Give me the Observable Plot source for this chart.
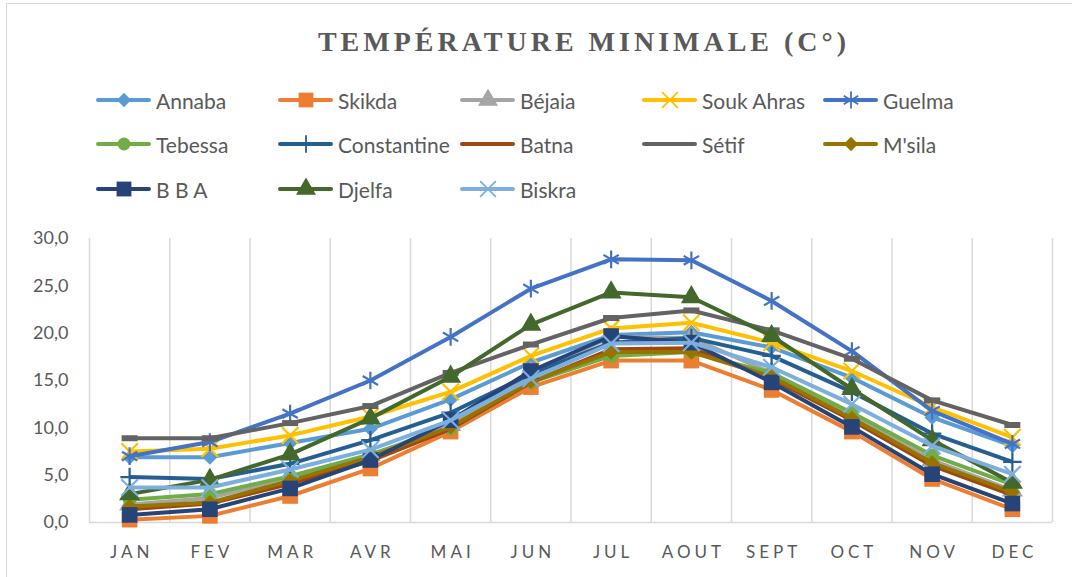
<!DOCTYPE html>
<html>
<head>
<meta charset="utf-8">
<script src="https://cdn.jsdelivr.net/npm/d3@7"></script>
<script src="https://cdn.jsdelivr.net/npm/@observablehq/plot@0.6"></script>
<style>
  html, body { margin: 0; padding: 0; background: #fff; overflow: hidden; }
  #wrap { position: relative; width: 1072px; height: 577px; overflow: hidden; font-family: Lato, "Open Sans", sans-serif; color: #595959; }
  #frame { position: absolute; left: 6px; top: 3px; width: 1080px; height: 590px; border: 1.5px solid #d9d9d9; box-sizing: border-box; }
  #title { position: absolute; left: 0; width: 1072px; top: 26px; text-align: center; font-family: "Liberation Serif", "Times New Roman", serif; font-weight: bold; font-size: 28px; letter-spacing: 4px; color: #595959; line-height: 32px; padding-left: 96px; box-sizing: border-box; }
  #legend { position: absolute; left: 0; top: 0; width: 1072px; height: 215px; }
  .entry { position: absolute; height: 30px; display: flex; align-items: center; }
  .entry svg { display: block; }
  .entry span { font-size: 21px; color: #595959; margin-left: 5px; white-space: nowrap; }
  #chart { position: absolute; left: 0; top: 215px; }
</style>
</head>
<body>
<div id="wrap">
  <div id="frame"></div>
  <div id="title">TEMPÉRATURE MINIMALE (C°)</div>
  <div id="legend"></div>
  <div id="chart"></div>
</div>
<script>
const months = ["JAN","FEV","MAR","AVR","MAI","JUN","JUL","AOUT","SEPT","OCT","NOV","DEC"];
const seriesNames = ["Annaba","Skikda","Béjaia","Souk Ahras","Guelma","Tebessa","Constantine","Batna","Sétif","M'sila","B B A","Djelfa","Biskra"];
const seriesColors = ["#5B9BD5","#ED7D31","#A5A5A5","#FFC000","#4472C4","#70AD47","#255E91","#9E480E","#636363","#997300","#264478","#43682B","#7CAFDD"];
const seriesMarkers = ["diamond","square","triangle","times","asterisk","circle","plus","none","dash","diamond","square","triangle","times"];
const yTicks = [0, 5, 10, 15, 20, 25, 30];

const annaba      = [6.9, 6.9, 8.4, 9.9, 13.0, 16.9, 19.8, 20.1, 18.5, 15.3, 11.1, 8.1];
const skikda      = [0.3, 0.7, 2.8, 5.7, 9.6, 14.3, 17.1, 17.1, 14.0, 9.6, 4.6, 1.4];
const bejaia      = [1.9, 2.6, 4.7, 7.1, 10.3, 15.8, 19.6, 19.5, 15.8, 11.3, 6.6, 3.4];
const soukAhras   = [7.5, 7.8, 9.2, 11.2, 13.8, 17.6, 20.5, 21.1, 19.0, 16.0, 12.2, 9.0];
const guelma      = [7.0, 8.5, 11.5, 15.0, 19.6, 24.7, 27.8, 27.7, 23.4, 18.1, 11.8, 8.3];
const tebessa     = [2.4, 3.0, 4.9, 7.2, 9.9, 14.8, 17.6, 18.0, 15.8, 11.6, 7.1, 4.0];
const constantine = [4.8, 4.6, 6.2, 8.7, 11.6, 15.7, 19.0, 19.5, 17.6, 13.8, 9.4, 6.4];
const batna       = [1.4, 2.0, 4.1, 6.5, 9.9, 14.8, 18.3, 18.4, 15.2, 10.8, 6.0, 2.9];
const setif       = [8.9, 8.9, 10.5, 12.3, 15.8, 18.8, 21.6, 22.4, 20.3, 17.3, 12.9, 10.3];
const msila       = [1.7, 2.1, 4.4, 6.9, 10.1, 14.9, 18.0, 18.0, 15.4, 11.0, 6.3, 3.2];
const bba         = [0.8, 1.4, 3.6, 6.6, 10.8, 16.0, 19.7, 19.0, 14.8, 10.1, 5.1, 2.0];
const djelfa      = [3.0, 4.5, 7.2, 11.0, 15.4, 20.9, 24.3, 23.8, 19.7, 14.1, 8.7, 4.2];
const biskra      = [3.7, 3.7, 5.6, 7.7, 10.8, 15.2, 18.9, 19.0, 16.4, 12.5, 8.1, 5.1];

const seriesValues = [annaba, skikda, bejaia, soukAhras, guelma, tebessa, constantine, batna, setif, msila, bba, djelfa, biskra];

// custom dash marker (Excel "dash")
const dashSymbol = { draw(ctx, size) { ctx.rect(-8, -3, 16, 6); } };

function markerSpec(kind) {
  switch (kind) {
    case "diamond":  return {symbol: "diamond2", r: 6.8, filled: true};
    case "square":   return {symbol: "square", r: 8.8, filled: true};
    case "triangle": return {symbol: "triangle", r: 7.8, filled: true};
    case "circle":   return {symbol: "circle", r: 6.8, filled: true};
    case "times":    return {symbol: "times", r: 7.6, filled: false};
    case "asterisk": return {symbol: "asterisk", r: 8.4, filled: false};
    case "plus":     return {symbol: "plus", r: 6, filled: false};
    case "dash":     return {symbol: dashSymbol, r: 5, filled: true};
    default: return null;
  }
}

const boundaries = d3.range(months.length + 1).map(i => i - 0.5);

const marks = [
  Plot.ruleX(boundaries, {stroke: "#d9d9d9", strokeWidth: 1.5}),
  Plot.ruleY([0], {stroke: "#d9d9d9", strokeWidth: 1.5}),
  Plot.axisY({ticks: yTicks, tickSize: 0, tickPadding: 21, fontSize: 18, label: null,
    tickFormat: d => d.toFixed(1).replace(".", ",")}),
  Plot.axisX({ticks: d3.range(months.length), tickSize: 0, tickPadding: 23, fontSize: 17, label: null,
    tickFormat: i => months[i]})
];

seriesNames.forEach((name, s) => {
  const rows = seriesValues[s].map((v, i) => ({i, v}));
  const color = seriesColors[s];
  marks.push(Plot.line(rows, {x: "i", y: "v", stroke: color, strokeWidth: 4, strokeLinejoin: "round", strokeLinecap: "butt"}));
  const m = markerSpec(seriesMarkers[s]);
  if (m) {
    marks.push(Plot.dot(rows, m.filled
      ? {x: "i", y: "v", symbol: m.symbol, r: m.r, fill: color, stroke: "none"}
      : {x: "i", y: "v", symbol: m.symbol, r: m.r, fill: "none", stroke: color, strokeWidth: 2.2}));
  }
});

const chart = Plot.plot({
  width: 1072,
  height: 362,
  marginLeft: 89,
  marginRight: 20,
  marginTop: 23,
  marginBottom: 55,
  style: {fontFamily: "Lato, 'Open Sans', sans-serif", color: "#595959", background: "transparent", overflow: "visible"},
  x: {type: "linear", domain: [-0.5, months.length - 0.5], axis: null},
  y: {domain: [0, 30], axis: null},
  marks
});
document.getElementById("chart").appendChild(chart);

// letter-spacing on month labels
chart.querySelectorAll('[aria-label="x-axis tick label"] text').forEach(t => {
  t.setAttribute("letter-spacing", "4");
  t.setAttribute("dx", "2");
});

// legend
const legend = d3.select("#legend");
const colX = [96, 278, 460, 642, 823];
const rowY = [100, 144, 189];
seriesNames.forEach((name, s) => {
  const col = s % 5, row = Math.floor(s / 5);
  const e = legend.append("div").attr("class", "entry")
    .style("left", colX[col] + "px").style("top", (rowY[row] - 15) + "px");
  const svg = e.append("svg").attr("width", 55).attr("height", 30);
  svg.append("line").attr("x1", 2).attr("x2", 53).attr("y1", 15).attr("y2", 15)
    .attr("stroke", seriesColors[s]).attr("stroke-width", 4).attr("stroke-linecap", "round");
  const m = markerSpec(seriesMarkers[s]);
  if (m && seriesMarkers[s] !== "dash") {
    const symMap = {diamond2: d3.symbolDiamond2, square: d3.symbolSquare, triangle: d3.symbolTriangle,
      circle: d3.symbolCircle, times: d3.symbolTimes, asterisk: d3.symbolAsterisk, plus: d3.symbolPlus};
    const rr = m.r * 0.95;
    const p = d3.symbol(symMap[m.symbol], Math.PI * rr * rr)();
    const path = svg.append("path").attr("d", p).attr("transform", "translate(28,15)");
    if (m.filled) path.attr("fill", seriesColors[s]);
    else path.attr("fill", "none").attr("stroke", seriesColors[s]).attr("stroke-width", 1.8);
  }
  e.append("span").text(name);
});
</script>
</body>
</html>
